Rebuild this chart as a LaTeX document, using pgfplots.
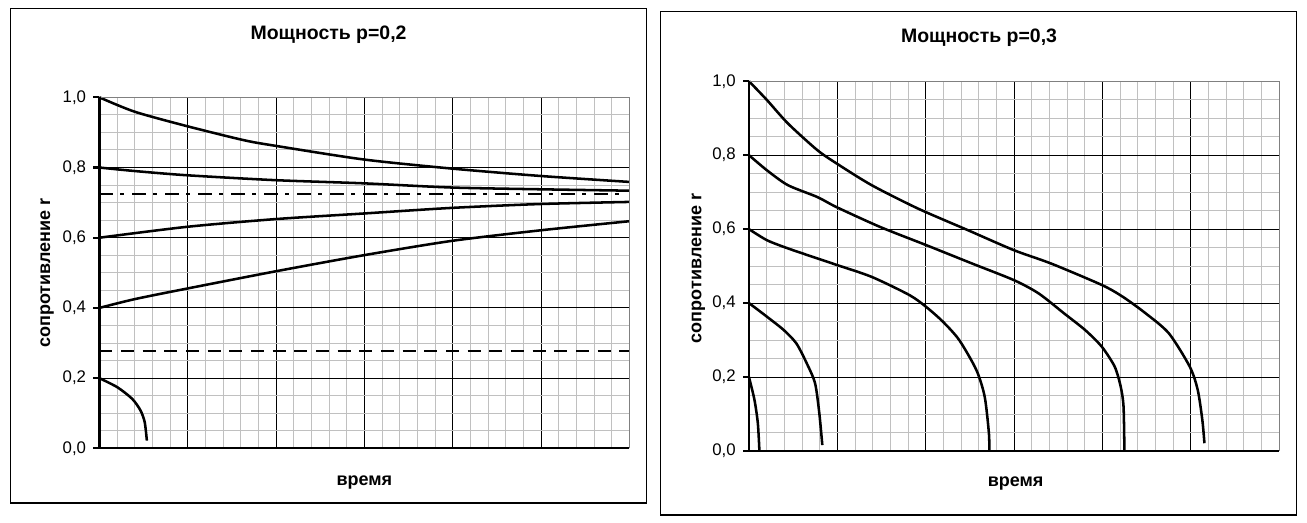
\documentclass[border=0pt]{standalone}
\usepackage{fontspec}
\setmainfont{Liberation Sans}
\usepackage{pgfplots}
\pgfplotsset{compat=1.18}
\definecolor{mgrid}{RGB}{192,192,192}
\definecolor{bord}{RGB}{128,128,128}
\pgfplotsset{
  myaxis/.style={
    scale only axis,
    width=397.5pt,
    xmin=0, xmax=30, ymin=0, ymax=1,
    axis line style={draw=none},
    xtick={0,5,...,30},
    minor xtick={0,1,...,30},
    xticklabels={},
    xtick style={draw=none},
    ytick={0,0.2,0.4,0.6,0.8,1.0},
    yticklabels={{0,0},{0,2},{0,4},{0,6},{0,8},{1,0}},
    minor ytick={0,0.05,...,1.0001},
    ytick style={line width=1.6pt, black},
    tick align=outside,
    major tick length=4.5pt,
    minor tick length=0pt,
    ytick pos=left,
    grid=both,
    major grid style={black, line width=0.75pt},
    minor grid style={mgrid, line width=0.75pt},
    tick label style={font=\fontsize{12.6}{14}\selectfont},
    yticklabel style={xshift=-1.9pt},
    title style={font=\bfseries\fontsize{14.6}{17}\selectfont, anchor=center},
    label style={font=\bfseries\fontsize{13.5}{16}\selectfont},
    clip=false,
  },
  curve/.style={black, line width=1.9pt, smooth, tension=0.45},
}
\begin{document}
\begin{tikzpicture}
\path[use as bounding box, fill=white] (0,0) rectangle (980.25pt,392.25pt);
\draw[line width=0.9pt] (7.9pt,15pt) rectangle (484.9pt,386pt);
\draw[line width=0.9pt] (495.5pt,6pt) rectangle (972.2pt,383.5pt);

% ---------- left ----------
\begin{axis}[myaxis,
  at={(74.5pt,56pt)}, anchor=origin, height=263.25pt,
  title={Мощность р=0,2}, title style={at={(0.4325,1.1547)}},
  xlabel={время}, xlabel style={at={(0.5,-0.1046)}, anchor=base},
  ylabel={сопротивление r}, ylabel style={at={(-0.093,0.5)}, rotate=0, anchor=base},
]
\addplot[curve] coordinates {(0,1.0) (2,0.959) (4.95,0.918) (8.17,0.878) (9.95,0.862) (14.95,0.823) (19.95,0.797) (24.95,0.776) (30,0.759)};
\addplot[curve] coordinates {(0,0.8) (2,0.790) (4.95,0.778) (9.95,0.764) (14.95,0.755) (19.95,0.743) (24.95,0.738) (30,0.734)};
\addplot[black, line width=1.9pt, dash pattern=on 10.5pt off 5.25pt on 3pt off 6pt] coordinates {(0,0.724) (29.7,0.724)};
\addplot[curve] coordinates {(0,0.6) (4.95,0.631) (9.95,0.653) (14.95,0.669) (19.95,0.685) (24.95,0.696) (30,0.702)};
\addplot[curve] coordinates {(0,0.4) (2,0.425) (4.95,0.455) (9.95,0.504) (14.95,0.550) (19.95,0.591) (24.95,0.621) (30,0.647)};
\addplot[black, line width=1.9pt, dash pattern=on 9.75pt off 6.5pt] coordinates {(0,0.277) (30,0.277)};
\addplot[curve] coordinates {(0,0.2) (1.02,0.174) (1.86,0.141) (2.33,0.108) (2.57,0.074) (2.69,0.022)};
\draw[bord, line width=0.75pt] (rel axis cs:0,1) -- (rel axis cs:1,1) -- (rel axis cs:1,0);
\draw[black, line width=1.4pt] (rel axis cs:0,0) -- (rel axis cs:1,0);
\draw[black, line width=2pt] (rel axis cs:0,0) -- (rel axis cs:0,1);
\end{axis}

% ---------- right ----------
\begin{axis}[myaxis,
  at={(561.75pt,54pt)}, anchor=origin, height=277.3pt,
  title={Мощность р=0,3}, title style={at={(0.434,1.097)}},
  xlabel={время}, xlabel style={at={(0.503,-0.0966)}, anchor=base},
  ylabel={сопротивление r}, ylabel style={at={(-0.09,0.4937)}, rotate=0, anchor=base},
]
\addplot[curve] coordinates {(0,1.0) (1.02,0.949) (2.2,0.886) (3.86,0.814) (4.98,0.777) (6.94,0.719) (9.55,0.656) (12.4,0.597) (15.0,0.543) (17.1,0.507) (19.97,0.449) (21.16,0.417) (22.46,0.372) (23.77,0.318) (24.95,0.228) (25.4,0.165) (25.66,0.084) (25.78,0.021)};
\addplot[curve] coordinates {(0,0.8) (1.02,0.759) (2.2,0.719) (3.86,0.687) (4.98,0.659) (7.42,0.606) (10.02,0.557) (12.63,0.507) (15.0,0.462) (16.4,0.426) (17.84,0.372) (19.03,0.327) (19.97,0.282) (20.7,0.228) (21.04,0.174) (21.2,0.12) (21.25,0.0)};
\addplot[curve] coordinates {(0,0.6) (1.02,0.570) (2.2,0.548) (3.86,0.521) (4.98,0.503) (6.94,0.471) (9.07,0.422) (10.02,0.390) (10.97,0.350) (11.9,0.300) (12.87,0.219) (13.34,0.147) (13.58,0.048) (13.6,0.0)};
\addplot[curve] coordinates {(0,0.4) (1.02,0.363) (1.97,0.327) (2.68,0.291) (3.27,0.237) (3.74,0.183) (3.98,0.102) (4.15,0.016)};
\addplot[curve] coordinates {(0,0.2) (0.31,0.138) (0.5,0.075) (0.59,0.0)};
\draw[bord, line width=0.75pt] (rel axis cs:0,1) -- (rel axis cs:1,1) -- (rel axis cs:1,0);
\draw[black, line width=2.2pt] (rel axis cs:0,0) -- (rel axis cs:1,0);
\draw[black, line width=2pt] (rel axis cs:0,0) -- (rel axis cs:0,1);
\end{axis}
\end{tikzpicture}
\end{document}
